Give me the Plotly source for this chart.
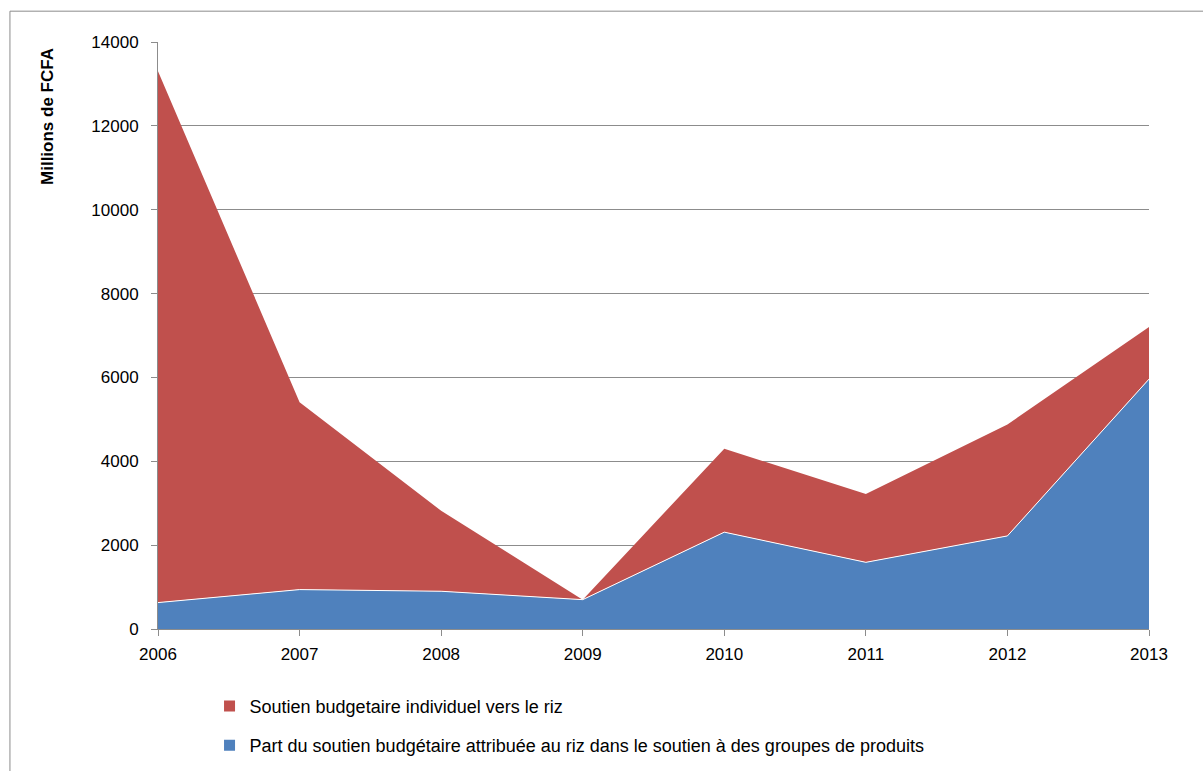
import plotly.graph_objects as go

# Budget support for rice, millions of FCFA
years = ["2006", "2007", "2008", "2009", "2010", "2011", "2012", "2013"]
part_groupes = [630, 940, 900, 700, 2310, 1590, 2220, 5960]       # share of group support attributed to rice
soutien_individuel = [12670, 4470, 1920, 0, 1990, 1630, 2660, 1240]  # individual budget support to rice
y_ticks = [0, 2000, 4000, 6000, 8000, 10000, 12000, 14000]
y_tick_text = [str(v) for v in y_ticks]

label_red = "Soutien budgetaire individuel vers le riz"
label_blue = "Part du soutien budgétaire attribuée au riz dans le soutien à des groupes de produits"

BLUE = "#4F81BD"
RED = "#C0504D"
GRID = "#8C8C8C"
FONT = "Liberation Sans"

x_idx = list(range(len(years)))

fig = go.Figure()

# stacked areas
fig.add_trace(go.Scatter(
    x=x_idx, y=part_groupes, stackgroup="s", mode="lines",
    line=dict(color="white", width=1), fillcolor=BLUE, showlegend=False,
))
fig.add_trace(go.Scatter(
    x=x_idx, y=soutien_individuel, stackgroup="s", mode="lines",
    line=dict(color=RED, width=0), fillcolor=RED, showlegend=False,
))

# legend entries (square swatches)
fig.add_trace(go.Scatter(
    x=[None], y=[None], mode="markers", name=label_red,
    marker=dict(symbol="square", size=11, color=RED), legendgroup="a",
))
fig.add_trace(go.Scatter(
    x=[None], y=[None], mode="markers", name=label_blue,
    marker=dict(symbol="square", size=11, color=BLUE), legendgroup="b",
))

fig.update_layout(
    width=1203, height=771,
    margin=dict(l=158, r=54, t=42, b=142, autoexpand=False),
    paper_bgcolor="white", plot_bgcolor="white",
    font=dict(family=FONT, size=16, color="black"),
    showlegend=True,
    legend=dict(
        x=0.052, y=-0.100, xanchor="left", yanchor="top",
        orientation="v", traceorder="grouped", tracegroupgap=13,
        font=dict(family=FONT, size=18),
        itemwidth=30,
        bgcolor="rgba(0,0,0,0)",
    ),
    xaxis=dict(
        range=[0, len(years) - 1], tickmode="array", tickvals=x_idx, ticktext=years,
        showgrid=False, zeroline=False,
        showline=True, linecolor=GRID, linewidth=1,
        ticks="outside", ticklen=6, tickcolor=GRID,
        tickfont=dict(size=17), ticklabelstandoff=4,
    ),
    yaxis=dict(
        range=[0, 14000], tickmode="array", tickvals=y_ticks, ticktext=y_tick_text,
        showgrid=True, gridcolor=GRID, gridwidth=1, zeroline=False,
        showline=True, linecolor=GRID, linewidth=1,
        ticks="outside", ticklen=6, tickcolor=GRID,
        tickfont=dict(size=17), ticklabelstandoff=9,
    ),
    annotations=[dict(
        text="<b>Millions de FCFA</b>", textangle=-90,
        xref="paper", yref="paper", x=-0.111, y=0.874,
        xanchor="center", yanchor="middle", showarrow=False,
        font=dict(family=FONT, size=17, color="black"),
    )],
    shapes=[dict(
        type="rect", xref="paper", yref="paper",
        x0=-0.1494, x1=1.2, y0=-0.3, y1=1.0525,
        line=dict(color="#8C8C8C", width=1), fillcolor="rgba(0,0,0,0)",
        layer="below",
    )],
)

fig.write_html("out.html")
